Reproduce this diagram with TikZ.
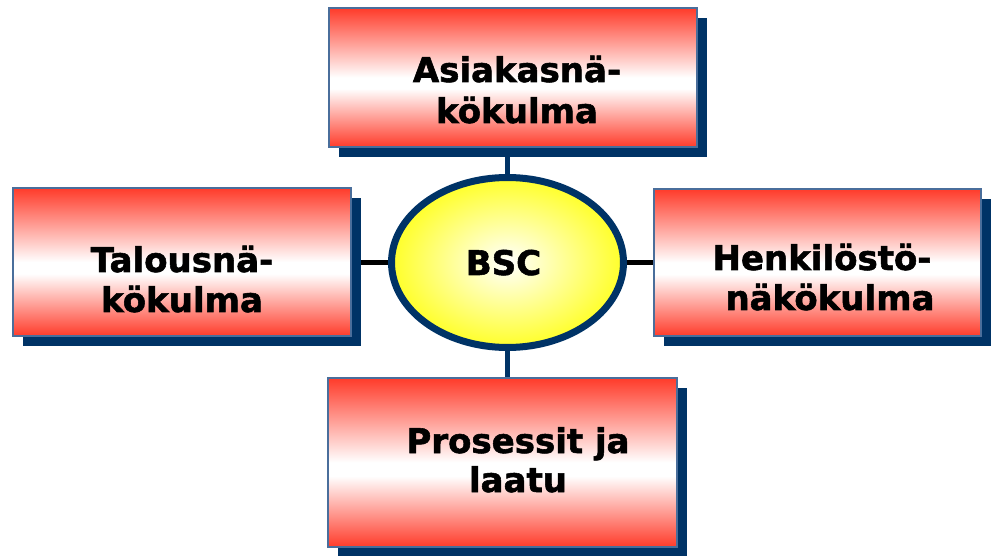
\documentclass[tikz,border=0pt]{standalone}
\usepackage{fontspec}
\setmainfont{DejaVu Sans}
\newfontfamily\heavyfont{DejaVu Sans}[BoldFeatures={FakeBold=1.6}]
\usetikzlibrary{shadows,backgrounds,shapes.geometric}

\definecolor{boxred}{RGB}{255,59,42}
\definecolor{navy}{RGB}{0,51,102}
\definecolor{edgeblue}{RGB}{74,110,155}
\definecolor{hubyellow}{RGB}{255,255,40}

% red at top and bottom, white band a little below the middle
\pgfdeclareverticalshading{redband}{100bp}{%
  color(0bp)=(boxred); color(25bp)=(boxred); color(46bp)=(white);
  color(50bp)=(white); color(75bp)=(boxred); color(100bp)=(boxred)}

\tikzset{
  viewbox/.style={rectangle, inner sep=0pt, draw=edgeblue, line width=1.2pt,
    shading=redband,
    drop shadow={shadow xshift=10pt, shadow yshift=-10pt, fill=navy, opacity=1}},
  hub/.style={ellipse, inner sep=0pt, draw=navy, line width=7pt,
    inner color=white, outer color=hubyellow},
  lbl/.style={anchor=base, inner sep=0pt, font=\fontsize{34}{41}\heavyfont\bfseries},
  vlink/.style={draw=navy, line width=5pt},
  hlink/.style={draw=black, line width=5pt}
}

\begin{document}
\begin{tikzpicture}[x=1pt, y=1pt]
\useasboundingbox (0,0) rectangle (994,555);

% the four perspective boxes
\node[viewbox, minimum width=368pt, minimum height=139pt] (top) at (513,477.5) {};
\node[viewbox, minimum width=338pt, minimum height=148pt] (left) at (182,293) {};
\node[viewbox, minimum width=327pt, minimum height=147pt] (right) at (817.5,292.5) {};
\node[viewbox, minimum width=349pt, minimum height=169pt] (bottom) at (502.5,92.5) {};

% central hub
\node[hub, minimum width=232pt, minimum height=170pt] (hubnode) at (507.5,292.5) {};

% links from the hub to the boxes, kept behind everything
\begin{scope}[on background layer]
  \draw[vlink] (hubnode.north) -- (hubnode.north |- top.south);
  \draw[vlink] (hubnode.south) -- (hubnode.south |- bottom.north);
  \draw[hlink] (hubnode.west) -- (hubnode.west -| left.east);
  \draw[hlink] (hubnode.east) -- (hubnode.east -| right.west);
\end{scope}

% labels
\node[lbl] (hubtxt) at (503.5,280) {BSC};
\node[lbl] (topA) at (517,473) {Asiakasnä-};
\node[lbl] (topB) at (517,432) {kökulma};
\node[lbl] (leftA) at (182,283) {Talousnä-};
\node[lbl] (leftB) at (182,243) {kökulma};
\node[lbl] (rightA) at (822,285) {Henkilöstö-};
\node[lbl] (rightB) at (830,245) {näkökulma};
\node[lbl] (bottomA) at (518,102) {Prosessit ja};
\node[lbl] (bottomB) at (518,63) {laatu};
\end{tikzpicture}
\end{document}
